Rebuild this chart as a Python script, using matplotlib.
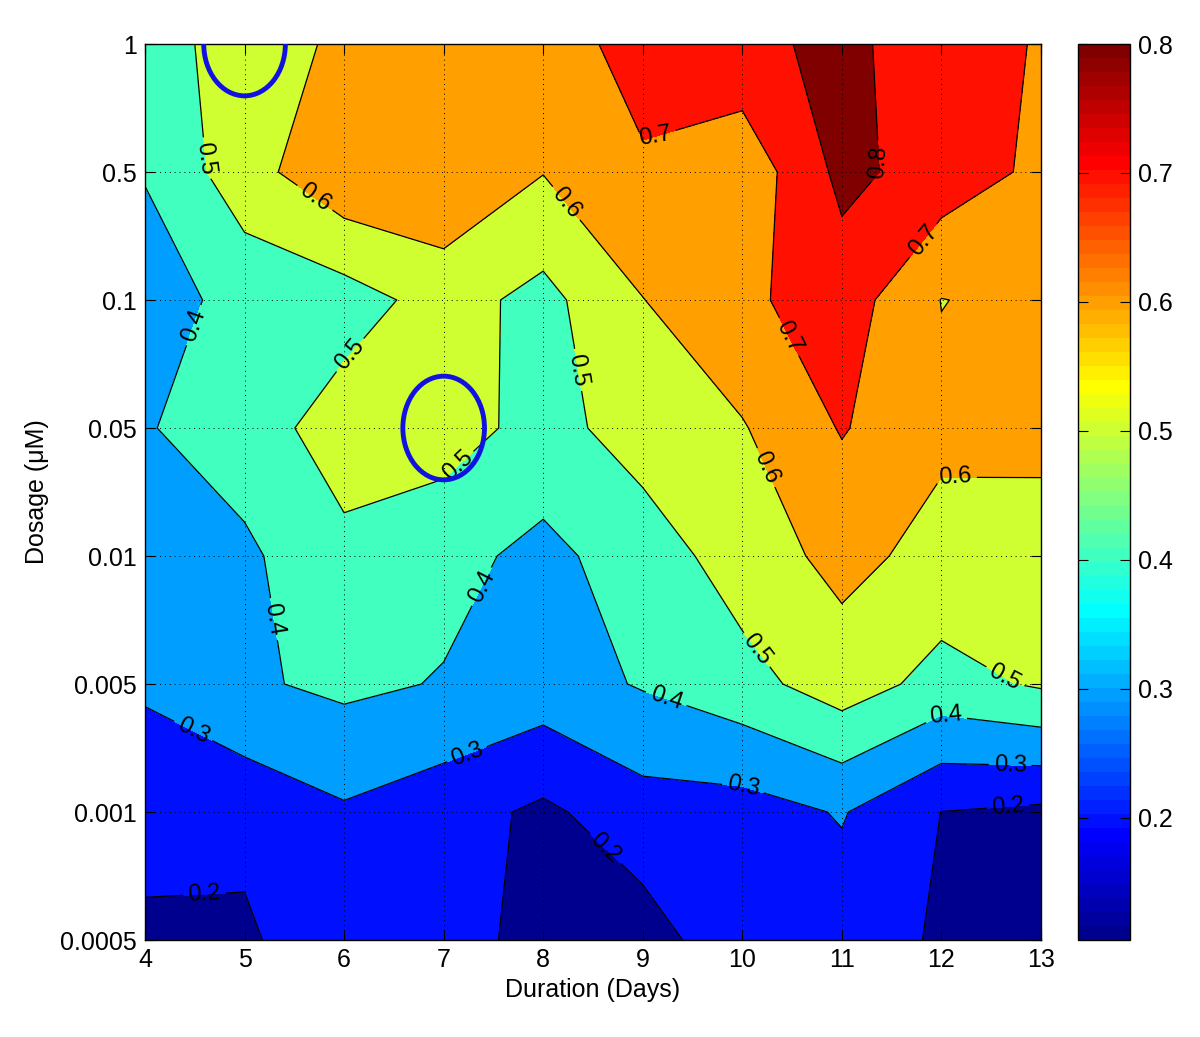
import numpy as np
import matplotlib
matplotlib.use('Agg')
import matplotlib.pyplot as plt
from matplotlib.patches import Ellipse
from matplotlib.colors import Normalize, ListedColormap
from matplotlib.cm import ScalarMappable

plt.rcParams['font.family'] = ['Liberation Sans', 'DejaVu Sans']

# Duration (days) on x, dosage levels on y (evenly spaced categories)
duration = [4, 5, 6, 7, 8, 9, 10, 11, 12, 13]
dosage_labels = ['0.0005', '0.001', '0.005', '0.01', '0.05', '0.1', '0.5', '1']

# response values, one row per dosage, one value per day
dose_0_0005 = [0.185, 0.179, 0.296, 0.249, 0.160, 0.156, 0.266, 0.251, 0.188, 0.105]
dose_0_001 = [0.230, 0.235, 0.288, 0.242, 0.181, 0.258, 0.259, 0.307, 0.199, 0.180]
dose_0_005 = [0.315, 0.386, 0.421, 0.394, 0.356, 0.408, 0.465, 0.551, 0.465, 0.512]
dose_0_01 = [0.350, 0.382, 0.475, 0.429, 0.375, 0.446, 0.549, 0.629, 0.568, 0.570]
dose_0_05 = [0.393, 0.450, 0.549, 0.547, 0.462, 0.547, 0.593, 0.707, 0.620, 0.619]
dose_0_1 = [0.352, 0.435, 0.455, 0.540, 0.470, 0.598, 0.680, 0.751, 0.598, 0.623]
dose_0_5 = [0.406, 0.558, 0.682, 0.690, 0.603, 0.680, 0.632, 0.826, 0.757, 0.678]
dose_1 = [0.450, 0.550, 0.618, 0.660, 0.624, 0.760, 0.774, 0.825, 0.744, 0.693]

levels = [0.2, 0.3, 0.4, 0.5, 0.6, 0.7, 0.8]
cbar_ticks = [0.2, 0.3, 0.4, 0.5, 0.6, 0.7, 0.8]

# circled points (day, dosage)
highlight_days = [5, 7]
highlight_dosage = ['1', '0.05']

# where the inline contour labels sit (day, dosage row index)
label_pos = [(4.60, 0.34), (4.45, 1.58), (4.50, 4.80), (4.55, 6.10),
             (5.69, 5.78), (6.06, 4.57), (5.24, 2.50), (7.11, 3.73),
             (7.36, 2.77), (7.23, 1.46), (8.52, 0.63), (8.32, 4.45),
             (8.27, 5.78), (9.12, 6.29), (9.22, 1.85), (10.0, 1.17),
             (10.15, 2.27), (10.18, 3.67), (10.51, 4.73), (11.36, 6.08),
             (11.78, 5.49), (12.14, 3.62), (12.04, 1.73), (12.60, 2.00),
             (12.69, 1.35), (12.67, 1.05)]


def matlab_jet(m=64):
    # same construction as MATLAB's jet(m)
    n = int(np.ceil(m / 4))
    u = np.concatenate([np.arange(1, n + 1) / n, np.ones(n - 1), np.arange(n, 0, -1) / n])
    g = int(np.ceil(n / 2)) - (1 if m % 4 == 1 else 0) + np.arange(1, len(u) + 1)
    r = g + n
    b = g - n
    J = np.zeros((m, 3))
    J[r[r <= m] - 1, 0] = u[r <= m]
    J[g[g <= m] - 1, 1] = u[g <= m]
    J[b[b >= 1] - 1, 2] = u[b >= 1]
    return ListedColormap(J)


Z = np.array([dose_0_0005, dose_0_001, dose_0_005, dose_0_01,
              dose_0_05, dose_0_1, dose_0_5, dose_1])
ypos = np.arange(len(dosage_labels))

fig = plt.figure(figsize=(12, 10.37), dpi=100)
ax = fig.add_axes([145 / 1200, 97 / 1037, 896 / 1200, 896 / 1037])
cax = fig.add_axes([1078 / 1200, 97 / 1037, 52 / 1200, 896 / 1037])

cmap = matlab_jet(64)
cmin = Z.min()
cmax = 0.8
norm = Normalize(cmin, cmax)

fill_levels = [cmin] + levels + [Z.max() + 0.001]
fill_colors = [cmap(min(norm(v), 0.999)) for v in fill_levels[:-1]]

ax.contourf(duration, ypos, Z, levels=fill_levels, colors=fill_colors)
cs = ax.contour(duration, ypos, Z, levels=levels, colors='k', linewidths=0.9)
ax.clabel(cs, fmt='%.1f', fontsize=17, inline=True, manual=label_pos)

for d, dl in zip(highlight_days, highlight_dosage):
    ax.add_patch(Ellipse((d, dosage_labels.index(dl)), 0.82, 0.81, fill=False,
                         ec='#1212e0', lw=3.5, zorder=5))

ax.set_xlim(4, 13)
ax.set_ylim(0, 7)
ax.set_xticks(duration)
ax.set_yticks(ypos)
ax.set_yticklabels(dosage_labels)
ax.grid(True, color='k', linestyle=(0, (1, 4)), linewidth=0.7)
ax.set_axisbelow(False)
ax.tick_params(direction='in', length=7, top=True, right=True, labelsize=18, pad=6)
for sp in ax.spines.values():
    sp.set_linewidth(1.0)

ax.set_xlabel('Duration (Days)', fontsize=18, labelpad=4)
ax.set_ylabel('Dosage (μM)', fontsize=18, labelpad=8)

cb = fig.colorbar(ScalarMappable(norm=norm, cmap=cmap), cax=cax, ticks=cbar_ticks)
cax.tick_params(direction='in', length=7, left=True, right=True, labelsize=18, pad=6)
cb.outline.set_linewidth(1.0)

fig.savefig('out.png', dpi=100)
